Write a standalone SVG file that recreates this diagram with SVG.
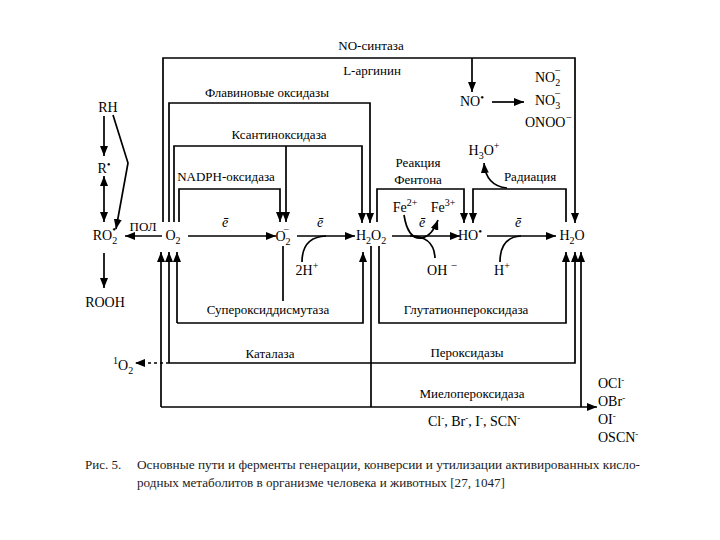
<svg xmlns="http://www.w3.org/2000/svg" width="720" height="540" viewBox="0 0 720 540">
<defs>
<marker id="a" markerUnits="userSpaceOnUse" markerWidth="11" markerHeight="8" refX="10" refY="4" orient="auto"><path d="M0,0 L10,4 L0,8 z" fill="#000"/></marker>
<style>
.t{font-family:'Liberation Serif','DejaVu Serif',serif;font-size:13px;fill:#000}
.c{font-family:'Liberation Serif','DejaVu Serif',serif;font-size:14px;fill:#000}
.m{text-anchor:middle}
.l{stroke:#000;stroke-width:1.7;fill:none}
.ar{marker-end:url(#a)}
.d{stroke-dasharray:3 3}
.cap{font-family:'Liberation Serif','DejaVu Serif',serif;font-size:13px;fill:#222}
</style>
</defs>
<rect width="720" height="540" fill="#fff"/>
<g id="connectors">
<path class="l ar" d="M163,222 V58 H575 V223"/>
<path class="l ar" d="M472,58 V92"/>
<path class="l ar" d="M169,222 V103 H370 V223"/>
<path class="l ar" d="M174,222 V146 H362 V223"/>
<path class="l ar" d="M286,146 V222"/>
<path class="l ar" d="M179,222 V189 H280 V222"/>
<path class="l ar" d="M377,222 V189 H464 V223"/>
<path class="l ar" d="M566,222 V189 H473 V223"/>
<path class="l ar" d="M507,188 Q486,186 484,163"/>
<path class="l ar" d="M492,102 H524"/>
<path class="l ar" d="M188,236 H276"/>
<path class="l ar" d="M297,236 H355"/>
<path class="l ar" d="M392,236 H460"/>
<path class="l ar" d="M487,236 H556"/>
<path class="l ar" d="M162,236 H125"/>
<path class="l ar" d="M104,116 V156"/>
<path class="l ar" d="M104,200 V222"/>
<path class="l ar" d="M104,200 V176"/>
<path class="l ar" d="M113,115 L128,163 L116,229"/>
<path class="l ar" d="M104,253 V288"/>
<path class="l" d="M302,262 Q302,237 326,236"/>
<path class="l" d="M410,236 Q434,236 435,258"/>
<path class="l ar" d="M404,215 Q408,240 422,238 Q432,236 438,220"/>
<path class="l" d="M500,262 Q500,237 521,236"/>
<path class="l" d="M283,246 V301"/>
<path class="l ar" d="M177,323 V252"/>
<path class="l ar" d="M177,323 H363 V252"/>
<path class="l ar" d="M379,246 V323 H566 V252"/>
<path class="l ar" d="M169,363 V252"/>
<path class="l ar" d="M169,363 H575 V252"/>
<path class="l" d="M371,246 V407"/>
<path class="l ar d" d="M169,363 H135"/>
<path class="l ar" d="M161,407 V252"/>
<path class="l ar" d="M161,407 H597"/>
<path class="l ar" d="M581,407 V252"/>
</g>
<g id="enzymes">
<text class="t m" x="371" y="50">NO-синтаза</text>
<text class="t m" x="372" y="75">L-аргинин</text>
<text class="t m" x="267" y="97">Флавиновые оксидазы</text>
<text class="t m" x="279" y="139">Ксантиноксидаза</text>
<text class="t m" x="226" y="181">NADPH-оксидаза</text>
<text class="t m" x="418" y="167">Реакция</text>
<text class="t m" x="418" y="184">Фентона</text>
<text class="t m" x="530" y="181">Радиация</text>
<text class="t m" x="143" y="231">ПОЛ</text>
<text class="t m" x="268" y="314">Супероксиддисмутаза</text>
<text class="t m" x="466" y="314">Глутатионпероксидаза</text>
<text class="t m" x="270" y="358">Каталаза</text>
<text class="t m" x="467" y="357">Пероксидазы</text>
<text class="t m" x="472" y="398">Миелопероксидаза</text>
</g>
<g id="node-RH"><text class="c m" x="108" y="112">RH</text></g>
<g id="node-R"><text class="c m" x="104" y="173">R<tspan dy="-5" font-size="11">•</tspan></text></g>
<g id="node-RO2"><text class="c m" x="105" y="240">RO<tspan dy="4" font-size="10">2</tspan><tspan dx="-5" dy="-11" font-size="11">•</tspan></text></g>
<g id="node-ROOH"><text class="c m" x="105" y="307">ROOH</text></g>
<g id="node-O2"><text class="c m" x="173" y="240">O<tspan dy="4" font-size="10">2</tspan></text></g>
<g id="node-O2minus"><text class="c m" x="283" y="241">O<tspan dy="4" font-size="10">2</tspan><tspan dx="-7" dy="-12" font-size="10">−</tspan></text></g>
<g id="node-H2O2"><text class="c m" x="371" y="240">H<tspan dy="4" font-size="10">2</tspan><tspan dy="-4">O</tspan><tspan dy="4" font-size="10">2</tspan></text></g>
<g id="node-HO"><text class="c m" x="470" y="240">HO<tspan dy="-5" font-size="11">•</tspan></text></g>
<g id="node-H2O"><text class="c m" x="572" y="240">H<tspan dy="4" font-size="10">2</tspan><tspan dy="-4">O</tspan></text></g>
<g id="node-e1"><text class="c m" x="225" y="227" font-style="italic">ē</text></g>
<g id="node-e2"><text class="c m" x="320" y="227" font-style="italic">ē</text></g>
<g id="node-e3"><text class="c m" x="422" y="227" font-style="italic">ē</text></g>
<g id="node-e4"><text class="c m" x="518" y="227" font-style="italic">ē</text></g>
<g id="node-Fe2"><text class="c m" x="405" y="212">Fe<tspan dy="-6" font-size="10">2+</tspan></text></g>
<g id="node-Fe3"><text class="c m" x="443" y="212">Fe<tspan dy="-6" font-size="10">3+</tspan></text></g>
<g id="node-2H"><text class="c m" x="307" y="275">2H<tspan dy="-6" font-size="10">+</tspan></text></g>
<g id="node-OH"><text class="c m" x="442" y="275">OH <tspan dy="-6" font-size="11">−</tspan></text></g>
<g id="node-H"><text class="c m" x="502" y="275">H<tspan dy="-6" font-size="10">+</tspan></text></g>
<g id="node-NO"><text class="c m" x="472" y="106">NO<tspan dy="-5" font-size="11">•</tspan></text></g>
<g id="node-NO2"><text class="c" x="535" y="82">NO<tspan dy="4" font-size="10">2</tspan><tspan dx="-6" dy="-12" font-size="11">−</tspan></text></g>
<g id="node-NO3"><text class="c" x="535" y="105">NO<tspan dy="4" font-size="10">3</tspan><tspan dx="-6" dy="-12" font-size="11">−</tspan></text></g>
<g id="node-ONOO"><text class="c" x="525" y="127">ONOO<tspan dy="-6" font-size="11">−</tspan></text></g>
<g id="node-H3O"><text class="c m" x="484" y="155">H<tspan dy="4" font-size="10">3</tspan><tspan dy="-4">O</tspan><tspan dy="-6" font-size="10">+</tspan></text></g>
<g id="node-1O2"><text class="c" x="113" y="370"><tspan dy="-6" font-size="10">1</tspan><tspan dy="6">O</tspan><tspan dy="4" font-size="10">2</tspan></text></g>
<g id="node-halides"><text class="c" x="428" y="426">Cl<tspan dy="-5" font-size="9">-</tspan><tspan dy="5">, Br</tspan><tspan dy="-5" font-size="9">-</tspan><tspan dy="5">, I</tspan><tspan dy="-5" font-size="9">-</tspan><tspan dy="5">, SCN</tspan><tspan dy="-5" font-size="9">-</tspan></text></g>
<g id="node-products">
<text class="c" x="598" y="388">OCl<tspan dy="-5" font-size="9">-</tspan></text>
<text class="c" x="598" y="406">OBr<tspan dy="-5" font-size="9">-</tspan></text>
<text class="c" x="598" y="424">OI<tspan dy="-5" font-size="9">-</tspan></text>
<text class="c" x="598" y="442">OSCN<tspan dy="-5" font-size="9">-</tspan></text>
</g>
<g id="caption">
<text class="cap" x="85" y="469">Рис. 5.</text>
<text class="cap" x="137" y="469" textLength="503" lengthAdjust="spacingAndGlyphs">Основные пути и ферменты генерации, конверсии и утилизации активированных кисло-</text>
<text class="cap" x="137" y="487" textLength="368" lengthAdjust="spacingAndGlyphs">родных метаболитов в организме человека и животных [27, 1047]</text>
</g>
</svg>
